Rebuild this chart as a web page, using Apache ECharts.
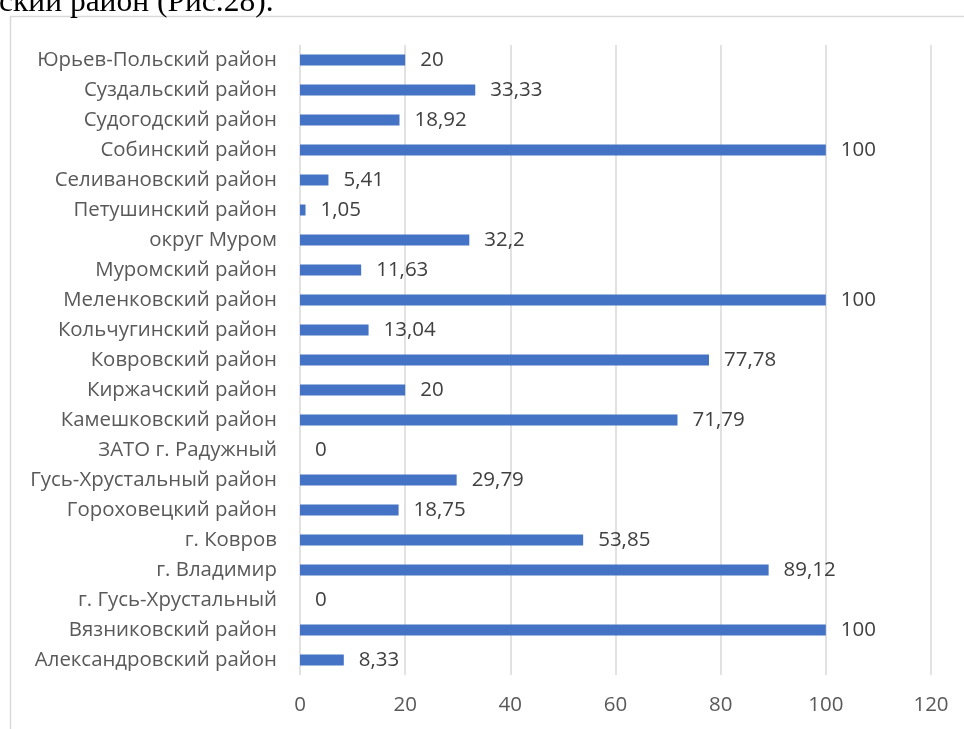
<!DOCTYPE html>
<html><head><meta charset="utf-8">
<script src="https://cdn.jsdelivr.net/npm/echarts@6/dist/echarts.min.js"></script>
<style>html,body{margin:0;padding:0;background:#fff}#c{width:964px;height:729px}</style>
</head><body><div id="c"></div>
<script>
const categories = [
  'Александровский район','Вязниковский район','г. Гусь-Хрустальный','г. Владимир','г. Ковров',
  'Гороховецкий район','Гусь-Хрустальный район','ЗАТО г. Радужный','Камешковский район','Киржачский район',
  'Ковровский район','Кольчугинский район','Меленковский район','Муромский район','округ Муром',
  'Петушинский район','Селивановский район','Собинский район','Судогодский район','Суздальский район',
  'Юрьев-Польский район'
];
const values = [8.33,100,0,89.12,53.85,18.75,29.79,0,71.79,20,77.78,13.04,100,11.63,32.2,1.05,5.41,100,18.92,33.33,20];
const xTicks = [0,20,40,60,80,100,120];
const headerText = 'ский район (Рис.28).';

const chart = echarts.init(document.getElementById('c'));
chart.setOption({
  animation:false,
  graphic:[
    {type:'rect',shape:{x:10.5,y:16.5,width:1000,height:800},style:{fill:'none',stroke:'#d9d9d9',lineWidth:1.5},z:-1},
    {type:'text',left:-1,top:-13,style:{text:headerText,font:'31.5px "Liberation Serif"',fill:'#000'}}
  ],
  grid:{left:300,right:33,top:45,bottom:54,containLabel:false},
  xAxis:{type:'value',min:0,max:120,interval:20,
    axisLine:{show:false},axisTick:{show:false},
    axisLabel:{margin:20,color:'#595959',fontFamily:'Open Sans',fontSize:20.5,formatter:v=>xTicks.includes(v)?String(v):''},
    splitLine:{lineStyle:{color:'#d9d9d9',width:1.5}}},
  yAxis:{type:'category',data:categories,
    axisLine:{show:false},axisTick:{show:false},
    axisLabel:{margin:23,color:'#595959',fontFamily:'Open Sans',fontSize:20.4}},
  series:[{type:'bar',data:values,barWidth:11,itemStyle:{color:'#4472C4'},
    label:{show:true,position:'right',distance:15,color:'#404040',fontFamily:'Open Sans',fontSize:20.5,
      formatter:p=>String(p.value).replace('.',',')}}]
});
</script></body></html>
